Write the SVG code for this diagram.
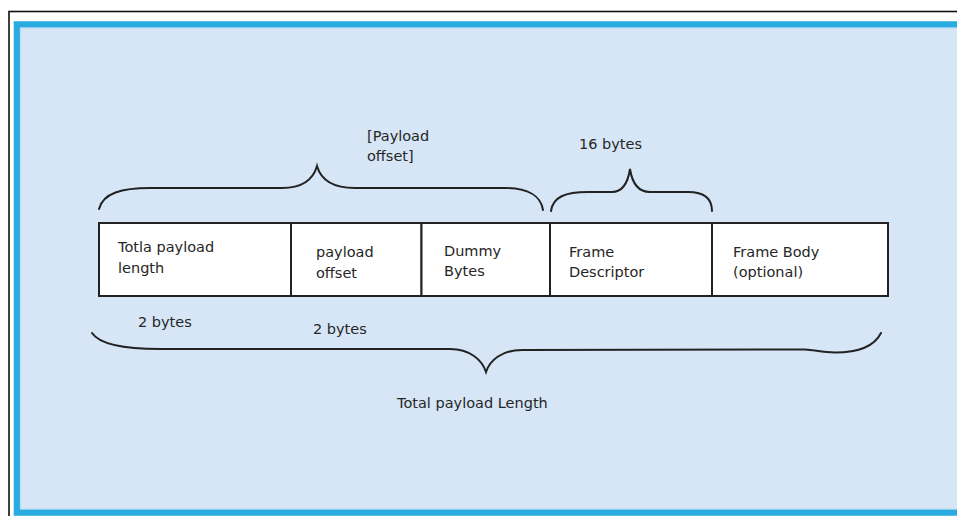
<svg xmlns="http://www.w3.org/2000/svg" width="957" height="516" viewBox="0 0 957 516">
  <style>
    .cell { fill: #ffffff; stroke: #222222; stroke-width: 2; }
    .lbl { font-family: "DejaVu Sans", Verdana, sans-serif; font-size: 14.5px; fill: #262626; }
    .brace { fill: none; stroke: #222222; stroke-width: 2; stroke-linecap: round; }
  </style>
  <rect x="0" y="0" width="957" height="516" fill="#ffffff"/>
  <rect x="9" y="11.5" width="960" height="520" fill="none" stroke="#111111" stroke-width="1.6"/>
  <rect x="17" y="24.5" width="950" height="488" fill="#d6e6f6" stroke="#29abe2" stroke-width="6.5"/>
  <rect x="20.5" y="28" width="940" height="481" fill="none" stroke="#b8dcf2" stroke-width="1.2"/>

  <g id="node-total-payload-length">
    <rect class="cell" x="99" y="223" width="192" height="73"/>
    <text class="lbl" x="118" y="252">Totla payload</text>
    <text class="lbl" x="118" y="273">length</text>
  </g>
  <g id="node-payload-offset">
    <rect class="cell" x="291" y="223" width="130.5" height="73"/>
    <text class="lbl" x="316" y="257">payload</text>
    <text class="lbl" x="316" y="278">offset</text>
  </g>
  <g id="node-dummy-bytes">
    <rect class="cell" x="421.5" y="223" width="128.5" height="73"/>
    <text class="lbl" x="444" y="256">Dummy</text>
    <text class="lbl" x="444" y="276">Bytes</text>
  </g>
  <g id="node-frame-descriptor">
    <rect class="cell" x="550" y="223" width="162" height="73"/>
    <text class="lbl" x="569" y="257">Frame</text>
    <text class="lbl" x="569" y="277">Descriptor</text>
  </g>
  <g id="node-frame-body">
    <rect class="cell" x="712" y="223" width="176" height="73"/>
    <text class="lbl" x="733" y="257">Frame Body</text>
    <text class="lbl" x="733" y="277">(optional)</text>
  </g>

  <g id="connectors">
    <path class="brace" d="M99,209 C103,193 122,188 150,188 L282,188 C302,188 313,180 317,166 C321,180 333,188 355,188 L505,188 C528,188 541,196 543,210"/>
    <path class="brace" d="M551,211 C553,197 565,192 588,192 L612,192 C623,192 628,182 630,169 C632,182 638,192 650,192 L688,192 C705,192 712,199 712,211"/>
    <path class="brace" d="M92,333 C100,345 125,349 160,349 L450,349 C470,349 482,360 486,372 C490,360 502,350 522,350 L805,349.5 C815,350 822,352.5 835,352.5 C860,352.5 875,345 881,333"/>
  </g>

  <g id="labels">
    <text class="lbl" x="367" y="141">[Payload</text>
    <text class="lbl" x="367" y="161">offset]</text>
    <text class="lbl" x="579" y="149">16 bytes</text>
    <text class="lbl" x="138" y="327">2 bytes</text>
    <text class="lbl" x="313" y="334">2 bytes</text>
    <text class="lbl" x="397" y="408">Total payload Length</text>
  </g>
</svg>
